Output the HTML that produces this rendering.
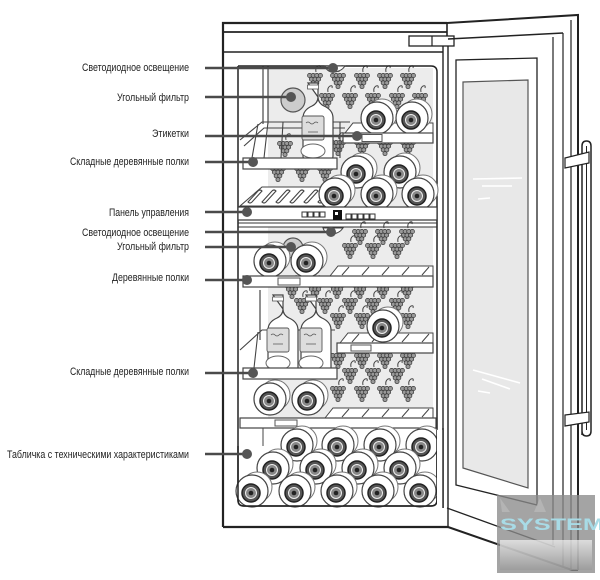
<!DOCTYPE html>
<html><head><meta charset="utf-8"><style>
html,body{margin:0;padding:0;background:#fff;}
svg{display:block;}
text{font-family:"Liberation Sans",sans-serif;}
</style></head><body>
<svg width="600" height="580" viewBox="0 0 600 580" xmlns="http://www.w3.org/2000/svg">
<defs>
 <g id="bt">
  <circle cx="5" cy="-4" r="15" fill="#fff" stroke="#777" stroke-width="1"/>
  <circle r="16" fill="#fff" stroke="#444" stroke-width="1.2"/>
  <circle cx="-1" cy="2" r="9" fill="#555" stroke="#222" stroke-width="1.5"/>
  <circle cx="-1" cy="2" r="5.5" fill="#888" stroke="#eee" stroke-width="1"/>
  <circle cx="-1" cy="2" r="2.3" fill="#222"/>
 </g>
 <g id="gr" stroke="#3a3a3a" stroke-width="0.7" fill="#999">
  <path d="M1,-8 q-1,-4 2,-6 q3,-1 2,2" fill="none" stroke="#444" stroke-width="1"/>
  <circle cx="-5.4" cy="-4.5" r="2.1"/><circle cx="-1.8" cy="-4.5" r="2.1"/><circle cx="1.8" cy="-4.5" r="2.1"/><circle cx="5.4" cy="-4.5" r="2.1"/>
  <circle cx="-3.6" cy="-0.8" r="2.1"/><circle cx="0" cy="-0.8" r="2.1"/><circle cx="3.6" cy="-0.8" r="2.1"/>
  <circle cx="-1.8" cy="2.9" r="2.1"/><circle cx="1.8" cy="2.9" r="2.1"/>
  <circle cx="0" cy="6.6" r="2.1"/>
 </g>
 <g id="sb">
  <path d="M-5,0 h10 v14 q0,6 6,9 q9,4 9,12 v38 q0,8 -15,8 q-15,0 -15,-8 v-38 q0,-8 9,-12 q6,-3 6,-9 z" fill="#fff" stroke="#444" stroke-width="1.2"/>
  <rect x="-5.5" y="2" width="11" height="4" fill="#fff" stroke="#555" stroke-width="0.8"/>
  <rect x="-11" y="33" width="22" height="24" rx="2" fill="#ddd" stroke="#555" stroke-width="0.9"/>
  <path d="M-7,40 q2,-2 4,0 q2,2 4,0 q2,-2 4,0 M-5,49 h10" stroke="#555" stroke-width="0.8" fill="none"/>
  <ellipse cx="0" cy="68" rx="12" ry="7" fill="#fff" stroke="#666" stroke-width="1"/>
 </g>
 <linearGradient id="wg" x1="0" y1="0" x2="0" y2="1">
  <stop offset="0" stop-color="#f4f4f4"/><stop offset="1" stop-color="#9a9a9a"/>
 </linearGradient>
</defs>
<rect width="600" height="580" fill="#fff"/>

<!-- back wall panels -->
<rect x="268" y="68" width="165" height="138" fill="#ececec"/>
<rect x="268" y="227" width="165" height="192" fill="#ececec"/>

<!-- grapes top compartment -->
<g>
 <use href="#gr" x="315" y="80"/><use href="#gr" x="338" y="80"/><use href="#gr" x="362" y="80"/><use href="#gr" x="385" y="80"/><use href="#gr" x="408" y="80"/>
 <use href="#gr" x="327" y="100"/><use href="#gr" x="350" y="100"/><use href="#gr" x="373" y="100"/><use href="#gr" x="397" y="100"/><use href="#gr" x="420" y="100"/>
 <use href="#gr" x="285" y="148"/><use href="#gr" x="338" y="147"/><use href="#gr" x="362" y="147"/><use href="#gr" x="385" y="147"/><use href="#gr" x="408" y="147"/>
 <use href="#gr" x="278" y="173"/><use href="#gr" x="302" y="173"/><use href="#gr" x="325" y="173"/>
</g>
<!-- grapes lower compartment -->
<g>
 <use href="#gr" x="360" y="236"/><use href="#gr" x="383" y="236"/><use href="#gr" x="407" y="236"/>
 <use href="#gr" x="350" y="250"/><use href="#gr" x="373" y="250"/><use href="#gr" x="397" y="250"/>
 <use href="#gr" x="292" y="290"/><use href="#gr" x="315" y="290"/><use href="#gr" x="337" y="290"/><use href="#gr" x="360" y="290"/><use href="#gr" x="383" y="290"/><use href="#gr" x="407" y="290"/>
 <use href="#gr" x="302" y="305"/><use href="#gr" x="325" y="305"/><use href="#gr" x="350" y="305"/><use href="#gr" x="373" y="305"/><use href="#gr" x="397" y="305"/>
 <use href="#gr" x="338" y="320"/><use href="#gr" x="362" y="320"/><use href="#gr" x="408" y="320"/>
 <use href="#gr" x="338" y="360"/><use href="#gr" x="362" y="360"/><use href="#gr" x="385" y="360"/><use href="#gr" x="408" y="360"/>
 <use href="#gr" x="350" y="375"/><use href="#gr" x="373" y="375"/><use href="#gr" x="397" y="375"/>
 <use href="#gr" x="338" y="393"/><use href="#gr" x="362" y="393"/><use href="#gr" x="385" y="393"/><use href="#gr" x="408" y="393"/>
</g>

<!-- cabinet -->
<g fill="none" stroke="#222">
 <path d="M223,527 V23 H447" stroke-width="2.2"/>
 <line x1="223" y1="32" x2="447" y2="32" stroke-width="1.8"/>
 <line x1="223" y1="52" x2="443" y2="52" stroke-width="1.4"/>
 <line x1="223" y1="527" x2="448" y2="527" stroke-width="2.2"/>
 <line x1="443" y1="46" x2="443" y2="508" stroke-width="1.4"/>
 <path d="M238,66 V500 q0,6 6,6 H431 q6,0 6,-6 V72 q0,-6 -6,-6 H238" stroke-width="1.5"/>
 <line x1="263" y1="66" x2="263" y2="124" stroke-width="1"/>
 <line x1="268" y1="66" x2="268" y2="124" stroke-width="1"/>
 <line x1="260" y1="290" x2="260" y2="340" stroke-width="1"/>
</g>
<!-- hinge -->
<rect x="409" y="36" width="45" height="10" fill="#fff" stroke="#222" stroke-width="1.3"/>
<line x1="432" y1="36" x2="432" y2="46" stroke="#222" stroke-width="1.2"/>

<!-- LED lens top -->
<path d="M325,66 h20 q-4,6 -12,6 q-6,0 -8,-6z" fill="#fff" stroke="#444"/>
<!-- carbon filter 1 -->
<circle cx="293" cy="100" r="12" fill="#ccc" stroke="#555" stroke-width="1.2"/>

<!-- top right shelf slats + bottles -->
<g stroke="#444" stroke-width="1" fill="#fff">
 <path d="M345,133 l8,-10 h80 v10z"/>
</g>
<use href="#bt" x="377" y="118"/><use href="#bt" x="412" y="118"/>
<rect x="343" y="133" width="90" height="10" fill="#fff" stroke="#444" stroke-width="1.2"/>
<rect x="362" y="134.5" width="20" height="7" fill="#fff" stroke="#555" stroke-width="1"/>

<!-- top folding shelf -->
<g fill="none" stroke="#444" stroke-width="1.1">
 <path d="M240,140 L262,122 H350"/>
 <path d="M244,146 L264,128 H345"/>
 <line x1="258" y1="124" x2="252" y2="158"/><line x1="268" y1="122" x2="264" y2="158"/>
 <line x1="283" y1="122" x2="281" y2="158"/><line x1="340" y1="122" x2="340" y2="158"/>
</g>
<use href="#sb" x="313" y="83"/>
<rect x="243" y="158" width="94" height="11" fill="#fff" stroke="#444" stroke-width="1.2"/>

<!-- top slanted rack -->
<g fill="#fff" stroke="#444" stroke-width="1.1">
 <path d="M240,206 L262,187 H345 V206 Z"/>
 <path d="M248,202 l10,-11 q2,-2 4,0 l-10,11 q-2,2 -4,0z M262,202 l10,-11 q2,-2 4,0 l-10,11 q-2,2 -4,0z M276,202 l10,-11 q2,-2 4,0 l-10,11 q-2,2 -4,0z M290,202 l10,-11 q2,-2 4,0 l-10,11 q-2,2 -4,0z M304,202 l10,-11 q2,-2 4,0 l-10,11 q-2,2 -4,0z M318,202 l10,-11 q2,-2 4,0 l-10,11 q-2,2 -4,0z"/>
</g>
<!-- top stacked bottles -->
<use href="#bt" x="357" y="172"/><use href="#bt" x="400" y="172"/>
<use href="#bt" x="335" y="194"/><use href="#bt" x="377" y="194"/><use href="#bt" x="418" y="194"/>

<!-- control panel -->
<rect x="238" y="207" width="199" height="13" fill="#fff" stroke="#333" stroke-width="1.2"/>
<line x1="238" y1="223" x2="437" y2="223" stroke="#333" stroke-width="1"/>
<line x1="238" y1="227" x2="437" y2="227" stroke="#333" stroke-width="1"/>
<g fill="#fff" stroke="#333" stroke-width="1">
 <rect x="302" y="212" width="5" height="5"/><rect x="308" y="212" width="5" height="5"/><rect x="314" y="212" width="5" height="5"/><rect x="320" y="212" width="5" height="5"/>
 <rect x="346" y="214" width="5" height="5"/><rect x="352" y="214" width="5" height="5"/><rect x="358" y="214" width="5" height="5"/><rect x="364" y="214" width="5" height="5"/><rect x="370" y="214" width="5" height="5"/>
</g>
<rect x="333" y="210" width="9" height="10" fill="#111"/>
<rect x="335" y="212" width="3" height="3" fill="#fff"/>

<!-- lower LED lens & filter -->
<path d="M323,228 h20 q-4,6 -12,6 q-6,0 -8,-6z" fill="#fff" stroke="#444"/>
<circle cx="293" cy="248" r="10" fill="#ccc" stroke="#555" stroke-width="1.2"/>

<!-- shelf 1 lower compartment -->
<g fill="#fff" stroke="#444" stroke-width="1">
 <path d="M330,276 l8,-10 h95 v10z"/>
 <path d="M342,275 l7,-8 M362,275 l7,-8 M382,275 l7,-8 M402,275 l7,-8 M422,275 l7,-8" fill="none"/>
</g>
<use href="#bt" x="270" y="261"/><use href="#bt" x="307" y="261"/>
<rect x="243" y="276" width="190" height="11" fill="#fff" stroke="#444" stroke-width="1.2"/>
<rect x="278" y="278" width="22" height="7" fill="#fff" stroke="#555" stroke-width="1"/>

<!-- right shelf mid -->
<g fill="#fff" stroke="#444" stroke-width="1">
 <path d="M340,343 l8,-10 h85 v10z"/>
 <path d="M352,342 l7,-8 M372,342 l7,-8 M402,342 l7,-8 M422,342 l7,-8" fill="none"/>
</g>
<use href="#bt" x="383" y="326"/>
<rect x="337" y="343" width="96" height="10" fill="#fff" stroke="#444" stroke-width="1.2"/>
<rect x="351" y="345" width="20" height="6" fill="#fff" stroke="#555" stroke-width="1"/>

<!-- folding shelf 2 -->
<g fill="none" stroke="#444" stroke-width="1.1">
 <path d="M240,350 L262,330 H335"/>
 <line x1="258" y1="332" x2="254" y2="368"/>
</g>
<use href="#sb" x="278" y="295"/><use href="#sb" x="311" y="295"/>
<rect x="243" y="368" width="94" height="11" fill="#fff" stroke="#444" stroke-width="1.2"/>

<!-- lower bottles + shelf -->
<g fill="#fff" stroke="#444" stroke-width="1">
 <path d="M325,418 l8,-10 h100 v10z"/>
 <path d="M342,417 l7,-8 M362,417 l7,-8 M382,417 l7,-8 M402,417 l7,-8 M422,417 l7,-8" fill="none"/>
</g>
<use href="#bt" x="270" y="399"/><use href="#bt" x="308" y="399"/>
<rect x="240" y="418" width="196" height="10" fill="#fff" stroke="#444" stroke-width="1.2"/>
<rect x="275" y="420" width="22" height="6" fill="#fff" stroke="#555" stroke-width="1"/>
<line x1="263" y1="428" x2="263" y2="446" stroke="#444" stroke-width="1"/>

<!-- bin bottles -->
<use href="#bt" x="297" y="445"/><use href="#bt" x="338" y="445"/><use href="#bt" x="380" y="445"/><use href="#bt" x="422" y="445"/>
<use href="#bt" x="273" y="468"/><use href="#bt" x="316" y="468"/><use href="#bt" x="358" y="468"/><use href="#bt" x="400" y="468"/>
<use href="#bt" x="252" y="491"/><use href="#bt" x="295" y="491"/><use href="#bt" x="337" y="491"/><use href="#bt" x="378" y="491"/><use href="#bt" x="420" y="491"/>
<path d="M238,446 V500 q0,6 6,6 H431 q6,0 6,-6 V430" fill="none" stroke="#222" stroke-width="1.5"/>
<rect x="437" y="430" width="6" height="80" fill="#fff"/>
<line x1="443" y1="428" x2="443" y2="508" stroke="#222" stroke-width="1.4"/>

<!-- door -->
<g fill="none" stroke="#222">
 <path d="M447,23 L578,15 V570" stroke-width="2"/>
 <line x1="447" y1="23" x2="447" y2="36" stroke-width="1.6"/>
 <line x1="448" y1="46" x2="448" y2="527" stroke-width="1.4"/>
 <path d="M448,39 L563,33" stroke-width="1.5"/>
 <line x1="553" y1="37" x2="553" y2="545" stroke-width="1.2"/>
 <line x1="563" y1="33" x2="563" y2="566" stroke-width="1.2"/>
 <line x1="571" y1="20" x2="571" y2="570" stroke-width="1.2"/>
 <path d="M447,508 L555,547" stroke-width="1.3"/>
 <path d="M448,527 L572,570 H578" stroke-width="2"/>
 <path d="M456,485 V60 L537,58 V505 Z" stroke-width="1.3"/>
</g>
<path d="M463,82 L528,80 V488 L463,468 Z" fill="#e8e8e8" stroke="#555" stroke-width="1.2"/>
<g stroke="#fff" stroke-width="1.6" fill="none">
 <line x1="473" y1="179" x2="522" y2="178"/><line x1="482" y1="186" x2="512" y2="186"/><line x1="478" y1="199" x2="490" y2="198"/>
 <line x1="473" y1="370" x2="520" y2="383"/><line x1="482" y1="379" x2="510" y2="389"/><line x1="478" y1="391" x2="490" y2="393"/>
</g>
<!-- handle -->
<path d="M582,435 V146 q0,-5 4.5,-5 q4.5,0 4.5,5 V431 q0,5 -4.5,5 q-4.5,0 -4.5,-5" fill="#fff" stroke="#222" stroke-width="1.5"/>
<line x1="586.5" y1="146" x2="586.5" y2="430" stroke="#222" stroke-width="1"/>
<path d="M565,158 L589,152 V163 L565,168 Z" fill="#fff" stroke="#222" stroke-width="1.2"/>
<path d="M565,415 L589,412 V422 L565,426 Z" fill="#fff" stroke="#222" stroke-width="1.2"/>

<!-- watermark -->
<rect x="497" y="495" width="98" height="78" fill="#8a8a8a" opacity="0.78"/>
<rect x="500" y="540" width="92" height="30" fill="url(#wg)" opacity="0.7"/>
<path d="M500,498 l10,14 l-8,0z M540,498 l6,14 h-12z" fill="#bbb" opacity="0.7"/>
<text x="500" y="530" font-size="17" fill="#a8dbe6" textLength="104" lengthAdjust="spacingAndGlyphs" font-weight="bold">SYSTEM</text>

<!-- leader lines -->
<g stroke="#4a4a4a" stroke-width="2.6">
 <line x1="205" y1="68" x2="333" y2="68"/>
 <line x1="205" y1="97" x2="291" y2="97"/>
 <line x1="205" y1="136" x2="357" y2="136"/>
 <line x1="205" y1="162" x2="253" y2="162"/>
 <line x1="205" y1="212" x2="247" y2="212"/>
 <line x1="205" y1="232" x2="331" y2="232"/>
 <line x1="205" y1="247" x2="291" y2="247"/>
 <line x1="205" y1="280" x2="247" y2="280"/>
 <line x1="205" y1="373" x2="253" y2="373"/>
 <line x1="205" y1="454" x2="247" y2="454"/>
</g>
<g fill="#555">
 <circle cx="333" cy="68" r="5"/><circle cx="291" cy="97" r="5"/><circle cx="357" cy="136" r="5"/>
 <circle cx="253" cy="162" r="5"/><circle cx="247" cy="212" r="5"/><circle cx="331" cy="232" r="5"/>
 <circle cx="291" cy="247" r="5"/><circle cx="247" cy="280" r="5"/><circle cx="253" cy="373" r="5"/>
 <circle cx="247" cy="454" r="5"/>
</g>

<!-- labels -->
<g font-size="11" fill="#222">
 <text x="82" y="71" textLength="107" lengthAdjust="spacingAndGlyphs">Светодиодное освещение</text>
 <text x="117" y="101" textLength="72" lengthAdjust="spacingAndGlyphs">Угольный фильтр</text>
 <text x="152" y="137" textLength="37" lengthAdjust="spacingAndGlyphs">Этикетки</text>
 <text x="70" y="165" textLength="119" lengthAdjust="spacingAndGlyphs">Складные деревянные полки</text>
 <text x="109" y="216" textLength="80" lengthAdjust="spacingAndGlyphs">Панель управления</text>
 <text x="82" y="236" textLength="107" lengthAdjust="spacingAndGlyphs">Светодиодное освещение</text>
 <text x="117" y="250" textLength="72" lengthAdjust="spacingAndGlyphs">Угольный фильтр</text>
 <text x="112" y="281" textLength="77" lengthAdjust="spacingAndGlyphs">Деревянные полки</text>
 <text x="70" y="375" textLength="119" lengthAdjust="spacingAndGlyphs">Складные деревянные полки</text>
 <text x="7" y="458" textLength="182" lengthAdjust="spacingAndGlyphs">Табличка с техническими характеристиками</text>
</g>
</svg>
</body></html>
